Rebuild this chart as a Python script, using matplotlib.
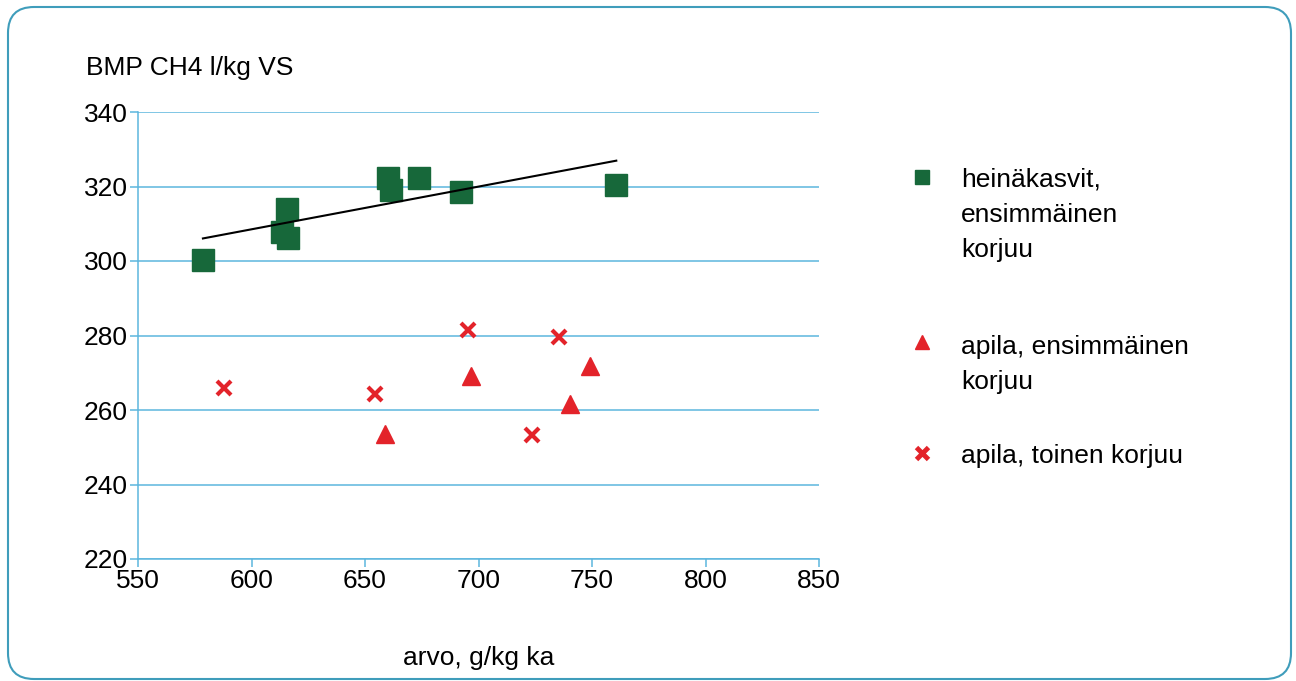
import numpy as np
import matplotlib.pyplot as plt
import matplotlib.transforms as mtransforms
from matplotlib.patches import FancyBboxPatch
from matplotlib.lines import Line2D

plt.rcParams['font.family'] = ['Liberation Sans', 'DejaVu Sans']

# heinäkasvit, ensimmäinen korjuu
hay_x = [578.6, 613.3, 615.8, 616.2, 660.3, 661.3, 673.6, 692.3, 760.7]
hay_y = [300.3, 307.9, 314.0, 306.1, 322.2, 319.1, 322.2, 318.4, 320.5]

# apila, ensimmäinen korjuu
clover1_x = [658.8, 696.7, 740.3, 749.1]
clover1_y = [253.6, 269.2, 261.6, 271.9]

# apila, toinen korjuu
clover2_x = [587.9, 654.4, 695.5, 723.4, 735.5]
clover2_y = [265.9, 264.3, 281.5, 253.3, 279.7]

labels = ["heinäkasvit,\nensimmäinen\nkorjuu",
          "apila, ensimmäinen\nkorjuu",
          "apila, toinen korjuu"]

xticks = [550, 600, 650, 700, 750, 800, 850]
yticks = [220, 240, 260, 280, 300, 320, 340]

green = '#17683a'
red = '#e3232a'
blue = '#5cb6de'

W, H = 1296, 681
fig = plt.figure(figsize=(W / 100, H / 100), dpi=100)

# rounded frame around the whole figure
frame = FancyBboxPatch((8, 2), 1283, 672,
                       boxstyle="round,pad=0,rounding_size=26",
                       fill=False, edgecolor='#3f9dbb', linewidth=1.5)
frame.set_transform(mtransforms.IdentityTransform())
fig.add_artist(frame)

ax = fig.add_axes([138 / W, 1 - 559 / H, (819 - 138) / W, (559 - 112) / H])

ax.plot(hay_x, hay_y, 's', color=green, ms=16, zorder=3)
ax.plot(clover1_x, clover1_y, '^', color=red, ms=13, zorder=3)
ax.plot(clover2_x, clover2_y, 'x', color=red, ms=10, mew=3, zorder=3)

# linear trend for the grass series
k, b = np.polyfit(hay_x, hay_y, 1)
tx = np.array([min(hay_x), max(hay_x)])
ax.plot(tx, k * tx + b, color='black', lw=1.5, zorder=4)

ax.set_xlim(550, 850)
ax.set_ylim(220, 340)
ax.set_xticks(xticks)
ax.set_yticks(yticks)
ax.yaxis.grid(True, color=blue, lw=1.1)
ax.set_axisbelow(True)
for s in ['top', 'right']:
    ax.spines[s].set_visible(False)
for s in ['left', 'bottom']:
    ax.spines[s].set_color(blue)
    ax.spines[s].set_linewidth(1.1)
ax.tick_params(axis='both', color=blue, length=5.5, width=1.1,
               labelsize=19, direction='out')
ax.tick_params(axis='y', pad=2)
ax.tick_params(axis='x', pad=2)

ax.set_xlabel("arvo, g/kg ka", fontsize=19, labelpad=38)
fig.text(86 / W, 1 - 75 / H, "BMP CH4 l/kg VS", fontsize=19,
         ha='left', va='baseline')

# legend drawn by hand at the right side
markers = [dict(marker='s', color=green, ms=10),
           dict(marker='^', color=red, ms=10),
           dict(marker='x', color=red, ms=9, mew=3.5)]
mark_y = [177, 342, 453]
text_y = [186, 354, 463]
line_step = 35.5
for m, my, ty, lab in zip(markers, mark_y, text_y, labels):
    fig.add_artist(Line2D([922 / W], [1 - my / H], linestyle='none',
                          transform=fig.transFigure, **m))
    for i, line in enumerate(lab.split('\n')):
        fig.text(961 / W, 1 - (ty + i * line_step) / H, line, fontsize=19,
                 ha='left', va='baseline')

fig.savefig('out.png', dpi=100, facecolor='white')
